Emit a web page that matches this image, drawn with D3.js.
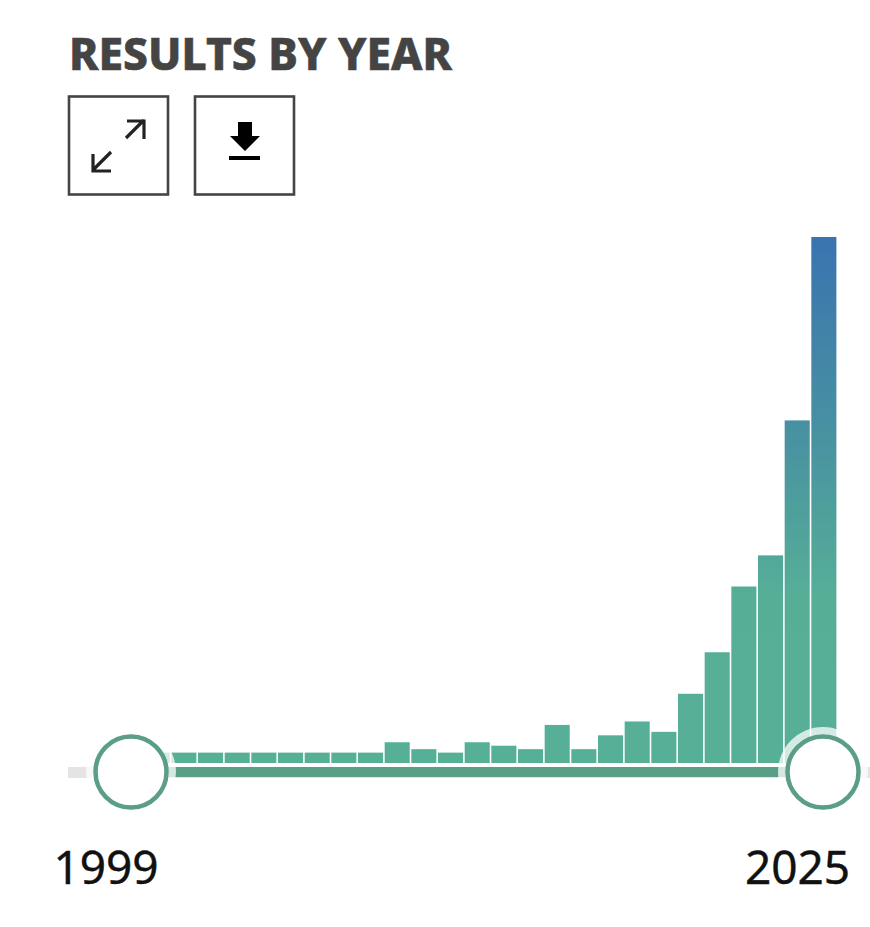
<!DOCTYPE html>
<html><head><meta charset="utf-8">
<script src="https://cdnjs.cloudflare.com/ajax/libs/d3/7.8.5/d3.min.js"></script>
<style>html,body{margin:0;padding:0;background:#fff}svg{display:block}</style>
</head><body><div id="c"></div>
<script>
const years = d3.range(1999, 2026);
const counts = [3,3,3,3,3,3,3,3,3,3,6,4,3,6,5,4,11,4,8,12,9,20,32,51,60,99,152];
const startLabel = "1999", endLabel = "2025";
const titleText = "RESULTS BY YEAR";

const svg = d3.select("#c").append("svg").attr("width",870).attr("height",927);
const x = d3.scaleBand().domain(years).range([118,836.4]).paddingInner(0.06).paddingOuter(0);
const y = d3.scaleLinear().domain([0,152]).range([763,237]);

const defs = svg.append("defs");
const grad = defs.append("linearGradient").attr("id","g").attr("gradientUnits","userSpaceOnUse")
  .attr("x1",0).attr("x2",0).attr("y1",y(0)).attr("y2",y(152));
[[0,"#56b096"],[0.32,"#56ae97"],[0.62,"#4892a1"],[1,"#3a73b0"]].forEach(s=>grad.append("stop").attr("offset",s[0]).attr("stop-color",s[1]));

svg.append("text").attr("x",69).attr("y",70).text(titleText)
  .attr("font-family","'Noto Sans'").attr("font-weight",800).attr("font-size",45)
  .attr("fill","#444").attr("stroke","#444").attr("stroke-width",0.6)
  .attr("textLength",383).attr("lengthAdjust","spacingAndGlyphs");

// buttons
[69,195].forEach(px=>svg.append("rect").attr("x",px).attr("y",96.5).attr("width",99).attr("height",98)
  .attr("fill","#fff").attr("stroke","#444").attr("stroke-width",2.6));
svg.append("path").attr("d","M126 138 L144 120 M127 121 H144 V139 M111 152 L93 170 M93 154 V171 H111")
  .attr("fill","none").attr("stroke","#222").attr("stroke-width",3.2);
svg.append("path").attr("d","M238 122 H252 V136 H260 L245 151 L230 136 H238 Z").attr("fill","#000");
svg.append("rect").attr("x",229).attr("y",156).attr("width",31).attr("height",4).attr("fill","#000");

// track
svg.append("rect").attr("x",68).attr("y",767).attr("width",802).attr("height",11).attr("fill","#e4e4e4");
svg.append("rect").attr("x",131).attr("y",767).attr("width",692).attr("height",10).attr("fill","#5a9e85");

// bars
svg.selectAll(".bar").data(years).join("rect").attr("class","bar")
  .attr("x",d=>x(d)).attr("width",x.bandwidth())
  .attr("y",(d,i)=>y(counts[i])).attr("height",(d,i)=>y(0)-y(counts[i]))
  .attr("fill","url(#g)");

// handles
[131,823].forEach(cx=>{
  svg.append("circle").attr("cx",cx).attr("cy",772).attr("r",45).attr("fill","#fff").attr("fill-opacity",0.75);
  svg.append("circle").attr("cx",cx).attr("cy",772).attr("r",35.5).attr("fill","#fff").attr("stroke","#5a9e85").attr("stroke-width",4.5);
});

// labels
[[startLabel,106],[endLabel,797.5]].forEach(l=>svg.append("text").attr("x",l[1]).attr("y",883.5).attr("text-anchor","middle")
  .attr("font-family","'Noto Sans'").attr("font-size",46).attr("fill","#111").attr("stroke","#111").attr("stroke-width",0.4).text(l[0]));
</script></body></html>
